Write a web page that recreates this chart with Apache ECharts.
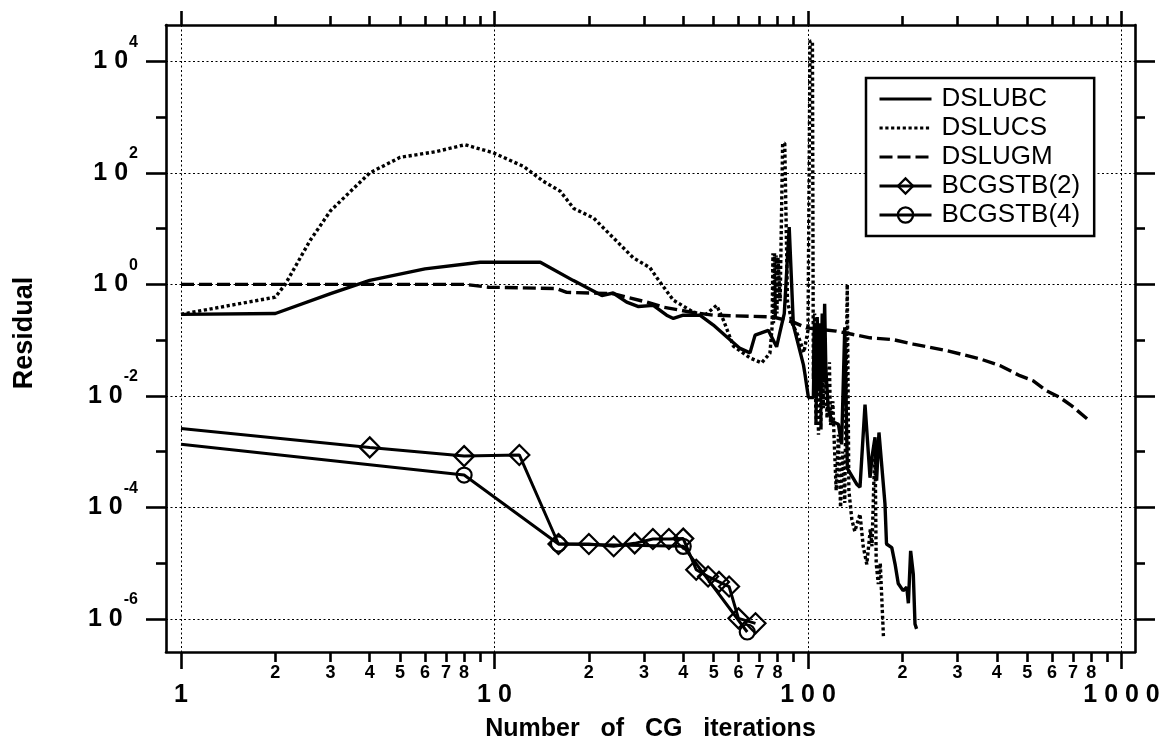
<!DOCTYPE html>
<html><head><meta charset="utf-8">
<script src="https://cdn.jsdelivr.net/npm/echarts@6/dist/echarts.min.js"></script>
<style>html,body{margin:0;padding:0;background:#fff}#c{width:1163px;height:747px}</style>
</head><body><div id="c"></div>
<script>
// ---- data: [iterations, residual] ----
const seriesNames = ['DSLUBC', 'DSLUCS', 'DSLUGM', 'BCGSTB(2)', 'BCGSTB(4)'];
const dslubc = [[1,0.29],[2,0.30],[3,0.68],[4,1.18],[6,1.9],[9,2.5],[14,2.5],[17.8,1.18],[22,0.63],[23.9,0.70],
  [26.4,0.48],[28.8,0.40],[32.1,0.42],[35.4,0.28],[37.2,0.245],[40,0.28],[45.2,0.28],[49.9,0.186],[55,0.115],[60.7,0.071],
  [65.3,0.059],[67.8,0.123],[74.7,0.15],[79.4,0.076],[81.4,0.14],[84,0.3],[87.1,10.7],[89.8,0.186],[96.7,0.036],[97.8,0.0245],
  [100.3,0.0093],[104,0.0093],[105,0.2],[106,0.015],[107,0.26],[108,0.012],[109,0.2],[110,0.01],[111,0.3],[112,0.02],
  [113,0.45],[114,0.03],[116,0.006],[119,0.0035],[125,0.0031],[128,0.00135],[131,0.17],[132.5,0.17],[133.5,5e-4],[143,2.6e-4],
  [146.5,2.3e-4],[152,7e-3],[157.7,3.4e-4],[160,8e-4],[163.6,1.8e-3],[165.5,3e-4],[168.4,2.2e-3],[176,1.15e-4],[178,2.2e-5],[185,1.9e-5],
  [189.6,9.5e-6],[194,4.3e-6],[201,3.2e-6],[206.5,3.7e-6],[209,1.9e-6],[212.5,1.66e-5],[216.7,6.3e-6],[219.4,8.1e-7],[222,6.6e-7]];
const dslucs = [[1,0.29],[2,0.59],[2.15,1.0],[2.58,6.1],[3,21],[4,100],[5,190],[6.5,240],[8.05,320],[9.9,230],
  [12.4,130],[14.3,71],[16.2,47],[17.9,23],[20.7,15.5],[23.9,6.9],[27.7,3.0],[31.3,2.0],[33.7,1.1],[37.2,0.52],
  [43,0.32],[46.9,0.28],[51.1,0.42],[53.7,0.23],[57.8,0.078],[65.3,0.048],[71.1,0.039],[75.6,0.058],[76.8,0.17],[77.3,3.6],
  [77.6,0.2],[78.2,3.6],[78.6,0.25],[79.2,3.3],[79.6,0.3],[80.2,3.0],[81.5,0.5],[83,340],[84.3,340],[86,0.5],
  [89,0.2],[93,0.12],[97,0.06],[100,0.15],[101.5,2.3e4],[103.3,2.3e4],[104,0.02],[105,0.3],[106,0.003],[107,0.2],
  [108,0.002],[109,0.12],[110,0.0025],[111,0.2],[112,0.006],[113,0.1],[115,0.004],[117,0.04],[118,0.003],[120,0.008],
  [121,0.002],[123,2e-4],[125,0.002],[127,1e-4],[129,0.001],[131,1.2e-4],[133.4,1.0],[135,2e-4],[138,6e-5],[141,3.7e-5],
  [146.5,7.6e-5],[150,2e-5],[154,9.5e-6],[158,4e-5],[160,2e-5],[163.6,1.55e-3],[165,1e-5],[167.6,4.2e-6],[170,1e-5],[174,4.9e-7]];
const dslugm = [[1,1.0],[8,1.0],[9.6,0.89],[15.8,0.84],[17,0.72],[23.9,0.68],[30.6,0.48],[34.6,0.39],[42,0.32],[49.9,0.28],
  [77.5,0.26],[89.8,0.21],[98.8,0.166],[123,0.145],[139.5,0.126],[157.7,0.11],[187,0.102],[216.7,0.085],[276.7,0.065],[354,0.046],
  [409,0.035],[474,0.023],[523,0.0186],[577,0.0123],[637,0.0093],[694,0.0066],[794,0.0035]];
const bcgstb2 = [[1,2.6e-3],[4,1.19e-3],[8,8.3e-4],[12,8.7e-4],[16,2.2e-5],[20,2.2e-5],[24,2.0e-5],[28,2.26e-5],[32,2.7e-5],[36,2.7e-5],
  [40,2.75e-5],[44,7.6e-6],[48,5.75e-6],[52,4.6e-6],[56,3.8e-6],[60,1.02e-6],[68,8.3e-7]];
const bcgstb4 = [[1,1.36e-3],[8,3.8e-4],[16,2.2e-5],[40,2.0e-5],[64,5.8e-7]];

// ---- ticks / labels ----
const xMajorTicks = [1, 10, 100, 1000];
const xMajorLabels = ['1', '1 0', '1 0 0', '1 0 0 0'];
const xMinorTicks = [2,3,4,5,6,7,8,9,20,30,40,50,60,70,80,90,200,300,400,500,600,700,800,900];
const xMinorLabels = ['2','3','4','5','6','7','8'];
const yMajorTicks = [1e-6, 1e-4, 1e-2, 1, 1e2, 1e4];
const yMinorTicks = [1e-5, 1e-3, 1e-1, 10, 1e3];

const L = Math.log10;
const X_MIN = -0.0478, X_MAX = 3.043, Y_MIN = -6.595, Y_MAX = 4.653;
const FONT = '"Liberation Sans", Arial, Helvetica, sans-serif';
const toPts = (arr, noFirstSymbol) => arr.map((p, i) => {
  const v = [L(p[0]), L(p[1])];
  return (noFirstSymbol && i === 0) ? {value: v, symbol: 'none'} : v;
});
const frame = {show: true, onZero: false, lineStyle: {color: '#000', width: 2.6}};
const noLine = {show: false, onZero: false};
const grid = {show: true, lineStyle: {color: '#000', width: 1, type: [2, 2.5]}};
const tickStyle = {color: '#000', width: 2.6};
const minorDigit = v => {
  const d = Math.round(Math.pow(10, v - Math.floor(v + 1e-9)));
  return xMinorLabels.indexOf(String(d)) >= 0 ? String(d) : '';
};

const baseX = {type: 'value', min: X_MIN, max: X_MAX, gridIndex: 0};
const baseY = {type: 'value', min: Y_MIN, max: Y_MAX, gridIndex: 0};

const option = {
  animation: false,
  backgroundColor: '#fff',
  grid: {left: 166, right: 28, top: 25, bottom: 93, containLabel: false},
  xAxis: [
    Object.assign({}, baseX, {position: 'bottom', axisLine: frame,
      axisTick: {show: true, customValues: xMajorTicks.map(L), length: 17, lineStyle: tickStyle},
      axisLabel: {show: true, customValues: xMajorTicks.map(L), margin: 31,
        formatter: v => xMajorLabels[Math.round(v)], fontSize: 25, fontWeight: 'bold', color: '#000', fontFamily: FONT},
      splitLine: grid,
      name: 'Number   of   CG   iterations', nameLocation: 'middle', nameGap: 65,
      nameTextStyle: {fontSize: 25, fontWeight: 'bold', color: '#000', fontFamily: FONT}}),
    Object.assign({}, baseX, {position: 'bottom', axisLine: noLine,
      axisTick: {show: true, customValues: xMinorTicks.map(L), length: 10, lineStyle: tickStyle},
      axisLabel: {show: true, customValues: xMinorTicks.map(L), margin: 12, formatter: minorDigit,
        fontSize: 18, fontWeight: 'bold', color: '#000', fontFamily: FONT},
      splitLine: {show: false}}),
    Object.assign({}, baseX, {position: 'top', axisLine: frame,
      axisTick: {show: true, customValues: xMajorTicks.map(L), length: 14, lineStyle: tickStyle},
      axisLabel: {show: false}, splitLine: {show: false}}),
    Object.assign({}, baseX, {position: 'top', axisLine: noLine,
      axisTick: {show: true, customValues: xMinorTicks.map(L), length: 9, lineStyle: tickStyle},
      axisLabel: {show: false}, splitLine: {show: false}})
  ],
  yAxis: [
    Object.assign({}, baseY, {position: 'left', axisLine: frame,
      axisTick: {show: true, customValues: yMajorTicks.map(L), length: 20, lineStyle: tickStyle},
      axisLabel: {show: true, customValues: yMajorTicks.map(L), margin: 28,
        formatter: v => '{b|1 0}{s|' + Math.round(v) + '}',
        rich: {
          b: {fontSize: 25, fontWeight: 'bold', color: '#000', fontFamily: FONT},
          s: {fontSize: 16, fontWeight: 'bold', color: '#000', fontFamily: FONT, padding: [0, 0, 38, 1]}
        }},
      splitLine: grid,
      name: 'Residual', nameLocation: 'middle', nameGap: 128,
      nameTextStyle: {fontSize: 27, fontWeight: 'bold', color: '#000', fontFamily: FONT, padding: [0, 0, 0, 11]}}),
    Object.assign({}, baseY, {position: 'left', axisLine: noLine,
      axisTick: {show: true, customValues: yMinorTicks.map(L), length: 10, lineStyle: tickStyle},
      axisLabel: {show: false}, splitLine: {show: false}}),
    Object.assign({}, baseY, {position: 'right', axisLine: frame,
      axisTick: {show: true, customValues: yMajorTicks.map(L), length: 20, lineStyle: tickStyle},
      axisLabel: {show: false}, splitLine: {show: false}}),
    Object.assign({}, baseY, {position: 'right', axisLine: noLine,
      axisTick: {show: true, customValues: yMinorTicks.map(L), length: 10, lineStyle: tickStyle},
      axisLabel: {show: false}, splitLine: {show: false}})
  ],
  legend: {
    orient: 'vertical', left: 866, top: 78,
    padding: [8, 14, 8, 12], itemGap: 3, itemWidth: 52, itemHeight: 19,
    backgroundColor: '#fff', borderColor: '#000', borderWidth: 2.5, borderRadius: 0,
    lineStyle: {width: 3},
    textStyle: {fontSize: 26, color: '#000', fontFamily: FONT, padding: [0, 0, 0, 5]},
    data: [
      {name: seriesNames[0], itemStyle: {opacity: 0}},
      {name: seriesNames[1], itemStyle: {opacity: 0}},
      {name: seriesNames[2], itemStyle: {opacity: 0}},
      {name: seriesNames[3], itemStyle: {borderWidth: 2.2}},
      {name: seriesNames[4], itemStyle: {borderWidth: 2.2}}
    ]
  },
  series: [
    {name: seriesNames[0], type: 'line', data: toPts(dslubc), symbol: 'none', z: 3,
      lineStyle: {color: '#000', width: 3.4}, itemStyle: {color: '#000'}},
    {name: seriesNames[1], type: 'line', data: toPts(dslucs), symbol: 'none', z: 3,
      lineStyle: {color: '#000', width: 3.4, type: [3.2, 2.6], cap: 'butt'}, itemStyle: {color: '#000'}},
    {name: seriesNames[2], type: 'line', data: toPts(dslugm), symbol: 'none', z: 3,
      lineStyle: {color: '#000', width: 3.4, type: [13, 5], cap: 'butt'}, itemStyle: {color: '#000'}},
    {name: seriesNames[3], type: 'line', data: toPts(bcgstb2, true), symbol: 'diamond', symbolSize: 20, z: 4,
      lineStyle: {color: '#000', width: 3}, itemStyle: {color: 'rgba(255,255,255,0)', borderColor: '#000', borderWidth: 2.2}},
    {name: seriesNames[4], type: 'line', data: toPts(bcgstb4, true), symbol: 'circle', symbolSize: 15, z: 4,
      lineStyle: {color: '#000', width: 3}, itemStyle: {color: 'rgba(255,255,255,0)', borderColor: '#000', borderWidth: 2.2}}
  ]
};
const chart = echarts.init(document.getElementById('c'), null, {renderer: 'canvas'});
chart.setOption(option);
</script>
</body></html>
